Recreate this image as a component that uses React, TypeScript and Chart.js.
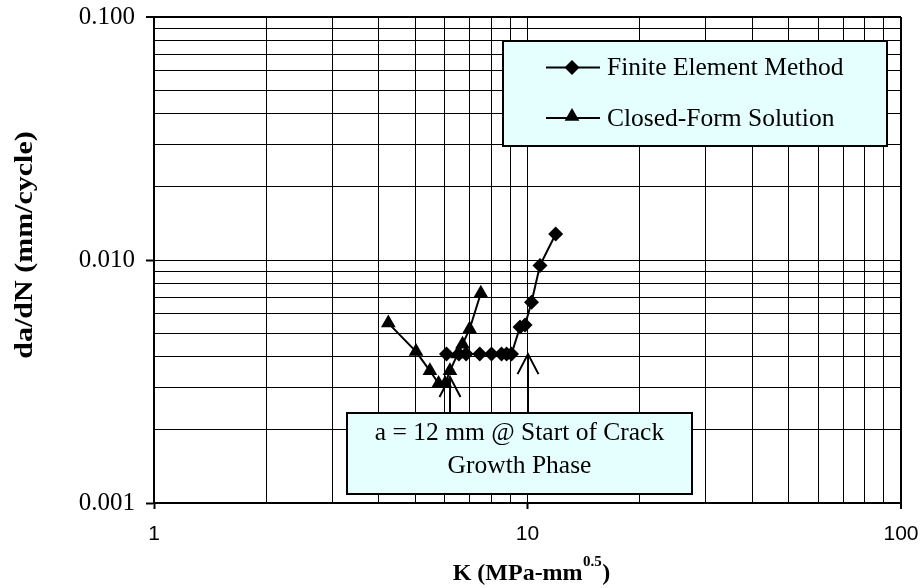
import React, { useEffect, useRef } from 'react';
import { Chart, registerables } from 'chart.js';

Chart.register(...registerables);

// Finite element results: stress intensity range K vs crack growth rate
const femK = [6.07, 6.55, 6.85, 7.45, 8.01, 8.52, 8.79, 9.06, 9.55, 9.85, 10.25, 10.8, 11.9];
const femRate = [0.0041, 0.0041, 0.0041, 0.0041, 0.0041, 0.0041, 0.0041, 0.0041, 0.0053, 0.0054, 0.0067, 0.0095, 0.0128];

// Closed-form solution
const cfK = [4.24, 5.03, 5.48, 5.78, 6.02, 6.2, 6.5, 6.7, 7.0, 7.5];
const cfRate = [0.0055, 0.0042, 0.0035, 0.0031, 0.0031, 0.0035, 0.0041, 0.0045, 0.0052, 0.0073];

// Labelled decades on each axis
const xMajorTicks = [1, 10, 100];
const yMajorTicks = [0.001, 0.01, 0.1];
const minorSteps = [1, 2, 3, 4, 5, 6, 7, 8, 9];

// Points the callout arrows indicate (start of crack growth phase)
const arrowK = [6.2, 10.0];
const arrowRate = [0.0033, 0.0041];

const seriesNames = ['Finite Element Method', 'Closed-Form Solution'];
const noteLines = ['a = 12 mm @ Start of Crack', 'Growth Phase'];
const xTitleMain = 'K (MPa-mm';
const xTitleSup = '0.5';
const yTitle = 'da/dN (mm/cycle)';

const SERIF = "'Liberation Serif', 'Times New Roman', serif";
const SANS = "'Liberation Sans', Arial, sans-serif";
const BOX_FILL = '#E5FFFF';

const logTicks = (majors: number[]) => {
  const out: number[] = [];
  for (let i = 0; i < majors.length - 1; i++) {
    for (const s of minorSteps) out.push(parseFloat((majors[i] * s).toPrecision(6)));
  }
  out.push(majors[majors.length - 1]);
  return out;
};

const isMajor = (v: number, majors: number[]) =>
  majors.some((m) => Math.abs(m - v) / m < 1e-6);

function diamond(ctx: CanvasRenderingContext2D, x: number, y: number, r: number) {
  ctx.beginPath();
  ctx.moveTo(x, y - r);
  ctx.lineTo(x + r, y);
  ctx.lineTo(x, y + r);
  ctx.lineTo(x - r, y);
  ctx.closePath();
  ctx.fill();
}

function triangle(ctx: CanvasRenderingContext2D, x: number, y: number, r: number) {
  ctx.beginPath();
  ctx.moveTo(x, y - r);
  ctx.lineTo(x + r * Math.sin((2 * Math.PI) / 3), y + r / 2);
  ctx.lineTo(x - r * Math.sin((2 * Math.PI) / 3), y + r / 2);
  ctx.closePath();
  ctx.fill();
}

const overlayPlugin = {
  id: 'overlay',
  afterDraw(chart: any) {
    const ctx: CanvasRenderingContext2D = chart.ctx;
    const xs = chart.scales.x;
    const ys = chart.scales.y;
    const area = chart.chartArea;
    ctx.save();

    // Legend box
    const lg = { left: 503, top: 41, right: 887, bottom: 146 };
    ctx.fillStyle = BOX_FILL;
    ctx.fillRect(lg.left, lg.top, lg.right - lg.left, lg.bottom - lg.top);
    ctx.strokeStyle = '#000';
    ctx.lineWidth = 2;
    ctx.strokeRect(lg.left, lg.top, lg.right - lg.left, lg.bottom - lg.top);
    const rowY = [67.5, 118];
    ctx.font = `25.5px ${SERIF}`;
    ctx.textBaseline = 'middle';
    ctx.textAlign = 'left';
    rowY.forEach((y, i) => {
      ctx.strokeStyle = '#000';
      ctx.lineWidth = 2;
      ctx.beginPath();
      ctx.moveTo(546, y);
      ctx.lineTo(600, y);
      ctx.stroke();
      ctx.fillStyle = '#000';
      if (i === 0) diamond(ctx, 572, y, 7.5);
      else triangle(ctx, 572, y - 1.5, 8.5);
      ctx.fillText(seriesNames[i], 607, y + 1);
    });

    // Callout arrows
    const nb = { left: 347, top: 413, right: 692, bottom: 494 };
    ctx.strokeStyle = '#000';
    ctx.lineWidth = 2;
    arrowK.forEach((k, i) => {
      const x = Math.round(xs.getPixelForValue(k));
      const tip = ys.getPixelForValue(arrowRate[i]);
      ctx.beginPath();
      ctx.moveTo(x, nb.top);
      ctx.lineTo(x, tip);
      ctx.moveTo(x - 10.5, tip + 20);
      ctx.lineTo(x, tip);
      ctx.lineTo(x + 10.5, tip + 20);
      ctx.stroke();
    });

    // Callout box
    ctx.fillStyle = BOX_FILL;
    ctx.fillRect(nb.left, nb.top, nb.right - nb.left, nb.bottom - nb.top);
    ctx.strokeRect(nb.left, nb.top, nb.right - nb.left, nb.bottom - nb.top);
    ctx.fillStyle = '#000';
    ctx.textAlign = 'center';
    const cx = (nb.left + nb.right) / 2;
    ctx.fillText(noteLines[0], cx, 433.5);
    ctx.fillText(noteLines[1], cx, 466.5);

    // X axis title with superscript exponent
    const mainFont = `bold 24px ${SERIF}`;
    const supFont = `bold 15px ${SERIF}`;
    ctx.textAlign = 'left';
    ctx.textBaseline = 'alphabetic';
    ctx.font = mainFont;
    const wMain = ctx.measureText(xTitleMain).width;
    const wClose = ctx.measureText(')').width;
    ctx.font = supFont;
    const wSup = ctx.measureText(xTitleSup).width;
    const total = wMain + wSup + wClose + 1;
    let tx = (area.left + area.right) / 2 + 4 - total / 2;
    const base = 580;
    ctx.font = mainFont;
    ctx.fillText(xTitleMain, tx, base);
    tx += wMain + 0.5;
    ctx.font = supFont;
    ctx.fillText(xTitleSup, tx, base - 14);
    tx += wSup + 0.5;
    ctx.font = mainFont;
    ctx.fillText(')', tx, base);

    // Y axis title
    ctx.save();
    ctx.translate(25, 245);
    ctx.rotate(-Math.PI / 2);
    ctx.scale(1.2, 1);
    ctx.font = `bold 25px ${SERIF}`;
    ctx.textAlign = 'center';
    ctx.textBaseline = 'middle';
    ctx.fillText(yTitle, 0, 1);
    ctx.restore();

    ctx.restore();
  },
};

export default function App() {
  const canvasRef = useRef<HTMLCanvasElement | null>(null);

  useEffect(() => {
    const canvas = canvasRef.current;
    if (!canvas) return;
    const xTicks = logTicks(xMajorTicks);
    const yTicks = logTicks(yMajorTicks);

    const chart = new Chart(canvas, {
      type: 'scatter',
      data: {
        datasets: [
          {
            label: seriesNames[0],
            data: femK.map((k, i) => ({ x: k, y: femRate[i] })),
            showLine: true,
            borderColor: '#000',
            borderWidth: 2,
            backgroundColor: '#000',
            pointStyle: 'rectRot',
            pointRadius: 7.5,
            pointBorderWidth: 0,
            pointBackgroundColor: '#000',
            tension: 0,
          },
          {
            label: seriesNames[1],
            data: cfK.map((k, i) => ({ x: k, y: cfRate[i] })),
            showLine: true,
            borderColor: '#000',
            borderWidth: 2,
            backgroundColor: '#000',
            pointStyle: 'triangle',
            pointRadius: 8.5,
            pointBorderWidth: 0,
            pointBackgroundColor: '#000',
            tension: 0,
          },
        ],
      },
      options: {
        animation: false,
        responsive: false,
        maintainAspectRatio: false,
        devicePixelRatio: 1,
        layout: { padding: { left: 0, top: 17, right: 23, bottom: 0 } },
        plugins: {
          legend: { display: false },
          tooltip: { enabled: false },
        },
        scales: {
          x: {
            type: 'logarithmic',
            position: 'bottom',
            min: 1,
            max: 100,
            afterBuildTicks: (scale: any) => {
              scale.ticks = xTicks.map((v) => ({ value: v }));
            },
            afterFit: (scale: any) => {
              scale.height = 85;
              scale.paddingLeft = 0;
              scale.paddingRight = 0;
            },
            ticks: {
              autoSkip: false,
              maxRotation: 0,
              minRotation: 0,
              padding: 13,
              color: '#000',
              font: { family: SANS, size: 21 },
              callback: (v: any) => (isMajor(Number(v), xMajorTicks) ? String(v) : ''),
            },
            grid: {
              color: '#000',
              lineWidth: (c: any) => (c.tick && c.tick.value === 100 ? 2 : 1),
              drawTicks: true,
              tickLength: 6,
              tickWidth: 2,
              tickColor: (c: any) =>
                c.tick && isMajor(c.tick.value, xMajorTicks) ? '#000' : 'rgba(0,0,0,0)',
            },
            border: { display: true, color: '#000', width: 2 },
          },
          y: {
            type: 'logarithmic',
            position: 'left',
            min: 0.001,
            max: 0.1,
            afterBuildTicks: (scale: any) => {
              scale.ticks = yTicks.map((v) => ({ value: v }));
            },
            afterFit: (scale: any) => {
              scale.width = 154;
              scale.paddingTop = 0;
              scale.paddingBottom = 0;
            },
            ticks: {
              autoSkip: false,
              padding: 11,
              color: '#000',
              font: { family: SERIF, size: 25 },
              callback: (v: any) =>
                isMajor(Number(v), yMajorTicks) ? Number(v).toFixed(3) : '',
            },
            grid: {
              color: '#000',
              lineWidth: (c: any) =>
                c.tick && Math.abs(c.tick.value - 0.1) < 1e-9 ? 2 : 1,
              drawTicks: true,
              tickLength: 8,
              tickWidth: 2,
              tickColor: (c: any) =>
                c.tick && isMajor(c.tick.value, yMajorTicks) ? '#000' : 'rgba(0,0,0,0)',
            },
            border: { display: true, color: '#000', width: 2 },
          },
        },
      },
      plugins: [overlayPlugin],
    } as any);

    return () => chart.destroy();
  }, []);

  return (
    <div
      style={{
        position: 'fixed',
        left: 0,
        top: 0,
        width: 924,
        height: 588,
        background: '#fff',
      }}
    >
      <canvas ref={canvasRef} width={924} height={588} style={{ width: 924, height: 588 }} />
    </div>
  );
}
